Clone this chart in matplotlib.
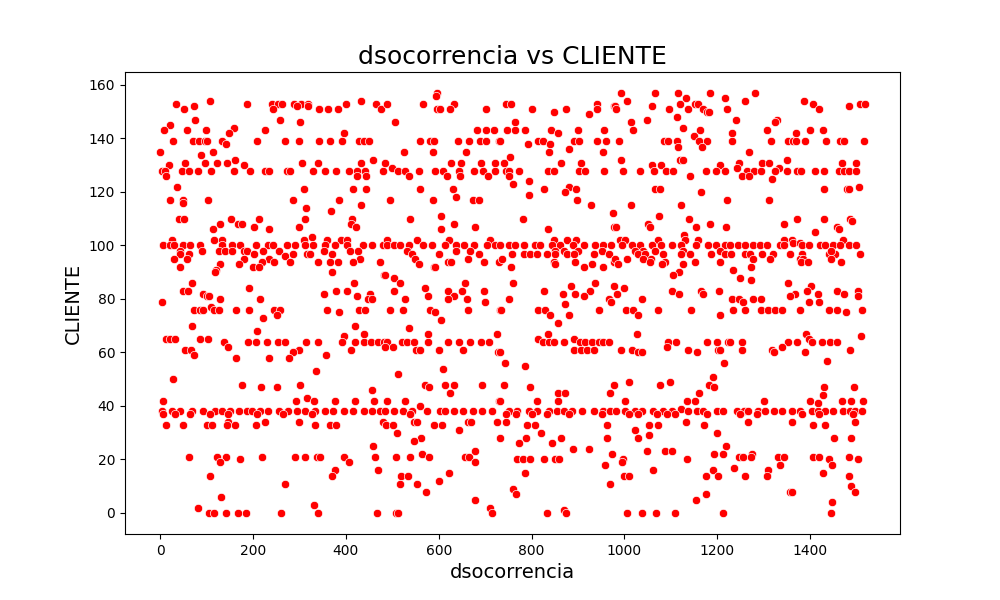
import matplotlib
matplotlib.use("Agg")
import matplotlib.pyplot as plt
import seaborn as sns

# values (x = dsocorrencia, y = CLIENTE)
dsocorrencia = [
    # 0 - 240
    108, 35, 186, 73, 52, 75, 22, 160, 9, 57, 98, 226, 149, 27, 70, 83, 96, 101, 133, 141, 208, 0, 113, 88, 54, 97, 123, 143, 162, 180, 18,
    4, 11, 47, 61, 81, 110, 159, 194, 225, 235,
    13, 37, 20, 48, 50, 104, 40, 52, 153, 212, 167, 177,
    128, 201, 113, 235, 25, 115, 133,
    7, 20, 29, 48, 65, 85, 134, 154, 172, 207, 233,
    43, 90, 126, 140, 154, 180, 187, 221, 43, 63, 201,
    30, 57, 180, 235, 220, 128, 169, 199, 213, 42, 120, 117,
    68, 192, 50, 60, 93, 100, 106, 129, 216, 3, 109,
    73, 86, 92, 115, 126, 164, 192,
    221, 68, 208, 13, 22, 32, 85, 104, 138, 189, 207, 230,
    147, 54, 67, 73, 163, 235, 27, 177, 218, 5,
    3, 25, 43, 68, 93, 119, 133, 151, 169, 187, 198, 215, 233,
    7, 32, 65, 108, 147, 208,
    147, 226, 13, 50, 101, 111, 144, 162, 206,
    61, 122, 141, 172, 220, 128, 108, 131, 81, 106, 115, 141, 167, 185,
    # 240 - 480
    240, 253, 262, 244, 289, 304, 318, 294, 319, 343, 362, 384,
    400, 433, 464, 475, 258, 301, 397,
    269, 298, 343, 365, 391, 429, 439, 449,
    459, 306, 341, 432,
    273, 280, 330, 354, 379, 407, 423, 441, 481,
    425, 443, 309, 416, 444, 285, 386, 433, 315, 367, 311, 414,
    411, 300, 422, 327, 309, 390, 402, 359,
    242, 273, 291, 312, 330, 355, 377, 402, 436, 456, 479,
    255, 268, 287, 316, 323, 352, 370, 409, 427, 431,
    246, 280, 341, 365, 384, 416, 474,
    370, 482, 418, 379, 403, 451, 352, 425, 447, 456,
    246, 258, 360, 428, 441, 385, 251, 420, 440, 395,
    253, 269, 314, 339, 391, 420, 438, 454, 469, 482,
    298, 287, 411, 357, 278, 336, 301, 251, 457, 316,
    293, 332, 377, 420, 461,
    255, 276, 294, 312, 334, 355, 373, 395, 416, 438, 456, 474,
    265, 327, 300, 481, 334, 366, 379,
    458, 291, 311, 337, 344, 396, 463, 406, 376, 470, 371, 268, 332, 260, 339, 468,
    # 480 - 730
    597, 595, 488, 567, 633, 625, 596, 602, 702, 506,
    682, 702, 720,
    559, 582, 590, 641, 666, 688, 702, 730,
    526, 587, 659, 499,
    485, 627, 648, 692, 722,
    513, 528, 557, 592, 610, 644, 677, 695, 722,
    537, 618, 646, 707,
    560, 630, 638, 494, 587, 673, 686, 605, 539, 634, 679, 604,
    488, 554, 623, 711,
    488, 503, 517, 537, 567, 585, 614, 638, 655, 676, 704, 722,
    531, 637, 668, 542, 686, 601, 549, 621, 626, 664, 697, 730,
    557, 589, 592, 485, 503, 516, 656, 570, 619, 650, 697, 503,
    578, 634, 528, 620, 662, 699,
    496, 523, 582, 664, 731, 592, 606, 537, 576, 725,
    488, 521, 531, 546, 578, 621, 643, 668, 691, 709,
    485, 501, 552, 559, 600, 652, 727, 513, 610, 571, 580, 614, 632, 625, 694,
    488, 528, 730, 560,
    485, 503, 524, 542, 575, 602, 614, 632, 653, 674, 693, 715,
    539, 546, 553, 664, 669, 725, 487, 501, 589, 607,
    643, 511, 562, 547, 679, 565, 508, 539, 580, 657, 666, 679,
    623, 519, 533, 600, 516, 553, 572, 679, 711, 508, 513, 715,
    # 730 - 980
    744, 756, 801, 848, 875, 923, 940, 940, 977, 764,
    747, 764, 785, 843, 901, 957, 856,
    733, 814, 825, 892, 902, 942, 961, 792, 840,
    881, 837, 953, 753, 740, 864, 907,
    744, 752, 772, 835, 848, 903, 916, 957,
    751, 794, 761, 880, 827, 896, 873, 794, 899, 929, 975, 781,
    978, 835, 848, 876, 896,
    733, 751, 765, 783, 808, 819, 845, 862, 889, 912, 937, 955, 972,
    850, 869, 900, 952,
    758, 783, 797, 812, 833, 851, 876, 891, 934, 966,
    736, 848, 894, 977, 851, 930, 756, 914, 955, 759, 936, 886,
    978, 826, 925, 867, 894, 914, 751, 966, 972, 873,
    735, 815, 828, 945, 839, 881, 856, 835, 813, 891,
    825, 837, 849, 871, 905, 916, 930, 945, 955, 966,
    891, 907, 919, 934, 731, 742, 785, 740, 796, 977, 858, 873, 970,
    733, 812, 858,
    751, 769, 794, 812, 837, 855, 869, 887, 909, 934, 955, 970,
    744, 767, 800, 833, 880, 952,
    745, 790, 807, 963, 820, 788, 863, 963, 731, 772, 845, 889, 923, 973,
    769, 781, 796, 826, 851, 860,
    959, 787, 970, 761, 767, 871, 833, 875,
    # 980 - 1225
    992, 1066, 1116, 1184, 1133, 1006, 1217,
    1120, 1152, 1159, 980, 983, 1059, 1097, 1138, 1170, 1179, 1183, 1222,
    1114, 1049, 1014, 1126, 1018, 1163, 1149,
    989, 1085, 1095, 1114, 1161, 1177,
    1116, 1168, 993, 1120, 1127, 1059, 1080, 1206,
    998, 1034, 1064, 1090, 1105, 1175, 1197, 1217,
    1141, 1066, 1077, 1165, 1222, 1014, 1122, 1075, 1139, 1050, 1055, 1184,
    982, 1154, 1219, 1128,
    991, 1001, 1073, 1131, 1159,
    994, 1016, 1034, 1059, 1080, 1102, 1123, 1154, 1181, 1197, 1217,
    1023, 1041, 1066, 1126, 1206,
    1030, 1044, 1084, 1123, 1141, 1187, 1217,
    980, 1006, 1041, 1057, 1088, 1152, 1206, 1126, 1055, 1082, 987,
    1118, 1105, 1000, 1102, 1165, 1204, 985, 1118, 1170, 1039,
    1003, 1019, 1073, 1143, 1030, 1206, 1028,
    1095, 1111, 1177, 1199, 1224,
    1091, 993, 1017, 1030, 1037, 1138, 1157, 1202, 1206, 1215, 1190, 1009,
    1098, 1077, 1183, 1194, 1161, 1001, 1134, 1152, 1122,
    983, 1001, 1023, 1037, 1062, 1084, 1102, 1138, 1156, 1170, 1199, 1213,
    1009, 1030, 1070, 1091, 1109, 1177,
    1133, 1054, 1072, 1172, 1023, 1199, 1053, 1030, 1218, 1049, 1087, 1102,
    1194, 1212, 998, 1136, 996, 1062, 1192, 1000, 1009, 1175, 1202, 1176, 1154,
    1006, 1039, 1068, 1110, 1213,
    # 1225 - 1518
    1282, 1260, 1386, 1407, 1420, 1485, 1508, 1518, 1240, 1328, 1325,
    1307, 1399, 1429, 1369, 1231,
    1231, 1316, 1352, 1364, 1369, 1389, 1435, 1465, 1474, 1517,
    1269, 1351, 1247, 1296, 1312, 1468, 1499, 1242, 1334,
    1264, 1280, 1295, 1325, 1350, 1371, 1381, 1411, 1431, 1463, 1474, 1485, 1499,
    1253, 1269, 1319, 1430, 1479, 1485, 1506, 1312, 1371, 1430, 1486, 1491,
    1345, 1459, 1463, 1411, 1343, 1361, 1472, 1363, 1379,
    1228, 1244, 1260, 1278, 1292, 1307, 1335, 1343, 1382, 1397, 1422, 1432, 1450, 1465, 1483, 1499,
    1230, 1260, 1271, 1296, 1321, 1357, 1382, 1440, 1454, 1508,
    1445, 1278, 1314, 1379, 1384, 1445, 1381, 1396, 1467, 1273, 1235, 1249,
    1273, 1353, 1402, 1393, 1459, 1503, 1368, 1357, 1417, 1474, 1504, 1295,
    1278, 1233, 1246, 1256, 1397, 1420,
    1235, 1259, 1295, 1310, 1325, 1339, 1379, 1440, 1459, 1513, 1478,
    1391, 1510, 1398,
    1228, 1253, 1353, 1371, 1405, 1425, 1443, 1458,
    1340, 1253, 1318, 1323, 1389, 1486, 1436, 1430, 1495, 1427,
    1300, 1400, 1468, 1488, 1515, 1418,
    1242, 1257, 1267, 1289, 1303, 1323, 1340, 1361, 1379, 1404, 1418, 1432, 1450, 1472, 1486, 1497, 1511,
    1249, 1285, 1382, 1420, 1493,
    1267, 1361, 1496, 1407, 1432, 1452, 1488, 1276,
    1247, 1256, 1273, 1332, 1343, 1407, 1420, 1442, 1485, 1504,
    1335, 1447, 1237, 1310, 1429, 1260, 1307, 1483, 1488, 1356, 1361, 1497, 1447, 1445,
]

cliente = [
    # 0 - 240
    154, 153, 153, 152, 151, 147, 145, 144, 143, 143, 143, 143, 142, 139, 139, 139, 139, 139, 139, 138, 139, 135, 135, 134, 131, 131, 131, 131, 132, 130, 130,
    128, 128, 128, 128, 128, 128, 128, 128, 128, 128,
    126, 122, 117, 117, 116, 117, 110, 110, 110, 110, 108, 108,
    108, 107, 106, 106, 102, 102, 102,
    100, 100, 100, 100, 100, 100, 100, 100, 100, 100, 100,
    98, 98, 98, 98, 98, 98, 98, 98, 97, 97, 97,
    95, 95, 95, 95, 94, 93, 93, 92, 92, 92, 91, 90,
    86, 84, 83, 83, 82, 81, 81, 80, 80, 79, 77,
    76, 76, 76, 76, 76, 76, 76,
    73, 70, 68, 65, 65, 65, 65, 65, 64, 64, 64, 64,
    62, 61, 61, 59, 58, 58, 50, 48, 47, 42,
    38, 38, 38, 38, 38, 38, 38, 38, 38, 38, 38, 38, 38,
    37, 37, 37, 37, 37, 37,
    34, 34, 33, 33, 33, 33, 33, 33, 33,
    21, 21, 21, 20, 21, 19, 14, 6, 2, 0, 0, 0, 0, 0,
    # 240 - 480
    153, 153, 153, 151, 153, 153, 153, 152, 152, 151, 151, 151,
    153, 154, 153, 151, 147, 146, 142,
    139, 139, 139, 139, 139, 139, 139, 139,
    132, 131, 131, 131,
    128, 128, 128, 128, 128, 128, 128, 128, 128,
    126, 126, 121, 121, 121, 117, 117, 115, 114, 113, 110, 110,
    108, 107, 107, 103, 102, 102, 102, 102,
    100, 100, 100, 100, 100, 100, 100, 100, 100, 100, 100,
    98, 96, 97, 97, 97, 98, 97, 98, 98, 95,
    94, 94, 94, 94, 94, 94, 94,
    90, 89, 86, 83, 83, 82, 82, 81, 80, 80,
    76, 76, 76, 76, 76, 75, 74, 70, 67, 66,
    64, 64, 64, 64, 64, 64, 64, 64, 64, 64,
    61, 60, 61, 59, 58, 53, 48, 47, 46, 43,
    42, 42, 42, 42, 42,
    38, 38, 38, 38, 38, 38, 38, 38, 38, 38, 38, 38,
    37, 37, 34, 34, 33, 33, 33,
    25, 21, 21, 21, 21, 21, 21, 19, 16, 16, 14, 11, 3, 0, 0, 0,
    # 480 - 730
    157, 156, 153, 153, 153, 151, 151, 151, 151, 146,
    143, 143, 143,
    139, 139, 139, 139, 139, 139, 139, 139,
    135, 135, 135, 129,
    131, 131, 131, 131, 131,
    128, 128, 128, 128, 128, 128, 128, 128, 128,
    126, 126, 126, 126,
    121, 121, 118, 117, 117, 117, 117, 111, 110, 108, 107, 106,
    102, 102, 102, 102,
    100, 100, 100, 100, 100, 100, 100, 100, 100, 100, 100, 100,
    98, 98, 98, 97, 97, 97, 95, 94, 94, 95, 94, 94,
    93, 92, 92, 89, 88, 86, 86, 84, 83, 83, 83, 83,
    81, 81, 80, 80, 80, 79,
    76, 76, 76, 76, 76, 75, 72, 69, 67, 67,
    64, 64, 64, 64, 64, 64, 64, 64, 64, 64,
    62, 62, 61, 61, 61, 61, 60, 52, 54, 48, 47, 48, 48, 45, 48,
    42, 42, 42, 40,
    38, 38, 38, 38, 38, 38, 38, 38, 38, 38, 38, 38,
    37, 34, 34, 34, 34, 34, 33, 33, 33, 33,
    31, 30, 28, 27, 23, 22, 21, 21, 21, 21, 21, 19,
    15, 14, 14, 12, 11, 11, 8, 5, 2, 0, 0, 0,
    # 730 - 980
    153, 153, 151, 150, 151, 149, 153, 151, 152, 146,
    143, 143, 143, 143, 143, 143, 142,
    139, 139, 139, 139, 139, 139, 139, 138, 138,
    136, 135, 135, 133, 131, 131, 131,
    128, 128, 128, 128, 128, 128, 128, 128,
    126, 124, 123, 122, 121, 121, 120, 119, 117, 115, 112, 110,
    107, 106, 102, 102, 102,
    100, 100, 100, 100, 100, 100, 100, 100, 100, 100, 100, 100, 100,
    98, 98, 98, 98,
    97, 97, 97, 97, 97, 97, 97, 97, 97, 97,
    95, 94, 94, 94, 93, 93, 92, 92, 92, 86, 86, 85,
    85, 83, 83, 82, 82, 81, 80, 80, 79, 78,
    76, 76, 76, 76, 74, 74, 71, 67, 65, 65,
    64, 64, 64, 64, 64, 64, 64, 64, 64, 64,
    61, 61, 61, 61, 60, 56, 55, 48, 47, 48, 45, 45, 45,
    42, 42, 42,
    38, 38, 38, 38, 38, 38, 38, 38, 38, 38, 38, 38,
    37, 37, 37, 37, 37, 37,
    34, 33, 33, 33, 30, 28, 28, 28, 28, 26, 26, 24, 24, 22,
    20, 20, 20, 20, 20, 20,
    18, 15, 11, 9, 7, 1, 0, 0,
    # 980 - 1225
    157, 157, 157, 157, 155, 154, 155,
    153, 153, 153, 152, 151, 152, 151, 151, 151, 150, 150, 151,
    148, 147, 146, 144, 143, 143, 141,
    139, 139, 139, 139, 139, 139,
    137, 137, 132, 132, 132, 130, 130, 130,
    128, 128, 128, 128, 128, 128, 128, 128,
    126, 121, 121, 120, 117, 115, 115, 111, 110, 108, 107, 108,
    107, 107, 107, 104,
    102, 102, 102, 102, 102,
    100, 100, 100, 100, 100, 100, 100, 100, 100, 100, 100,
    98, 98, 98, 98, 98,
    97, 97, 97, 97, 97, 97, 97,
    95, 95, 95, 95, 94, 94, 94, 93, 94, 93, 93,
    90, 89, 84, 83, 83, 83, 82, 82, 82, 80,
    76, 76, 76, 76, 74, 74, 67,
    64, 64, 64, 64, 64,
    62, 61, 61, 60, 60, 61, 60, 61, 61, 56, 51, 49,
    49, 48, 48, 47, 45, 42, 42, 42, 39,
    38, 38, 38, 38, 38, 38, 38, 38, 38, 38, 38, 38,
    37, 37, 37, 37, 37, 37,
    34, 33, 33, 33, 31, 30, 29, 28, 25, 23, 23, 23,
    22, 22, 20, 20, 19, 16, 16, 14, 14, 14, 14, 7, 5,
    0, 0, 0, 0, 0,
    # 1225 - 1518
    157, 154, 154, 153, 151, 152, 153, 153, 147, 147, 146,
    143, 143, 143, 142, 142,
    139, 139, 139, 139, 139, 139, 139, 139, 139, 139,
    135, 132, 131, 131, 131, 131, 131, 129, 129,
    128, 128, 128, 128, 128, 128, 128, 128, 128, 128, 128, 128, 128,
    126, 126, 125, 121, 121, 121, 122, 117, 110, 110, 110, 109,
    108, 107, 106, 105, 102, 102, 102, 101, 101,
    100, 100, 100, 100, 100, 100, 100, 100, 100, 100, 100, 100, 100, 100, 100, 100,
    97, 97, 97, 97, 97, 97, 97, 97, 97, 97,
    98, 95, 95, 95, 95, 95, 94, 94, 94, 92, 91, 88,
    87, 86, 85, 83, 83, 83, 82, 81, 82, 82, 81, 80,
    80, 80, 80, 79, 79, 79,
    76, 76, 76, 76, 76, 76, 76, 76, 76, 76, 75,
    67, 66, 65,
    64, 64, 64, 64, 64, 64, 64, 64,
    62, 61, 61, 60, 60, 61, 57, 47, 47, 44,
    42, 42, 42, 42, 42, 41,
    38, 38, 38, 38, 38, 38, 38, 38, 38, 38, 38, 38, 38, 38, 38, 38, 38,
    37, 37, 37, 37, 37,
    34, 34, 34, 33, 33, 28, 28, 22,
    21, 21, 21, 21, 21, 21, 21, 20, 21, 20,
    18, 18, 17, 16, 15, 14, 14, 14, 10, 8, 8, 8, 4, 0,
]

print(len(dsocorrencia), len(cliente))

fig, ax = plt.subplots(figsize=(10, 6), dpi=100)
sns.scatterplot(x=dsocorrencia, y=cliente, color="red", ax=ax)
ax.set_title("dsocorrencia vs CLIENTE", fontsize=18)
ax.set_xlabel("dsocorrencia", fontsize=14)
ax.set_ylabel("CLIENTE", fontsize=14)
fig.savefig("out.png", dpi=100)
